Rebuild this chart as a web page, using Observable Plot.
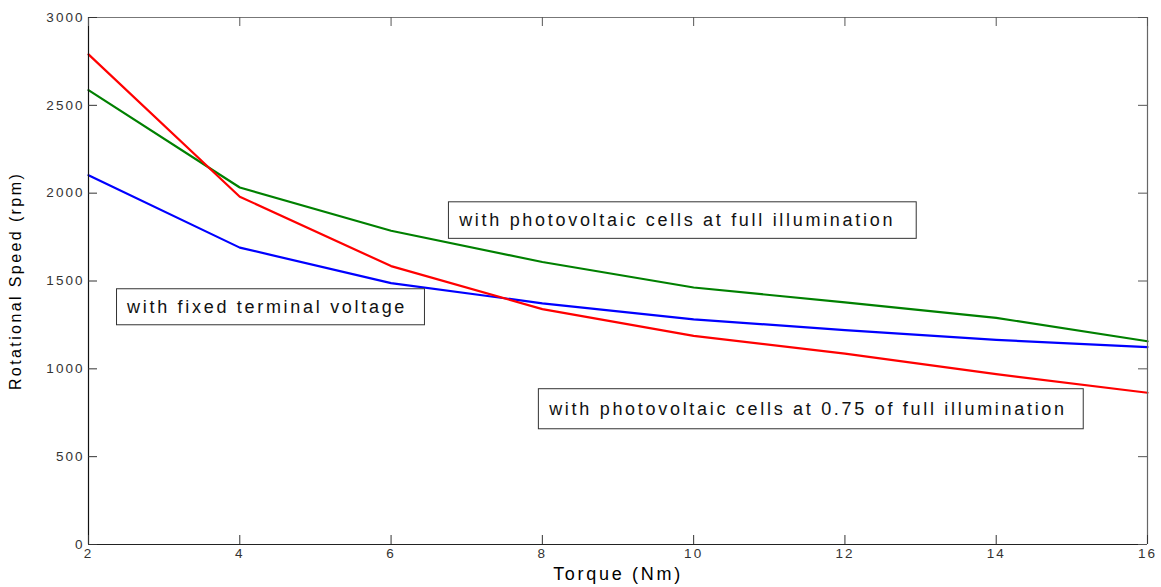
<!DOCTYPE html>
<html><head><meta charset="utf-8">
<script src="https://cdn.jsdelivr.net/npm/d3@7"></script>
<script src="https://cdn.jsdelivr.net/npm/@observablehq/plot@0.6"></script>
<style>
body{margin:0;background:#fff;}
#chart svg text{letter-spacing:0.15em;}
</style></head><body><div id="chart"></div>
<script>
// Data
const torque = [2, 4, 6, 8, 10, 12, 14, 16];
const speedFixed = [2102, 1690, 1488, 1373, 1282, 1220, 1165, 1124];
const speedFull = [2587, 2032, 1786, 1608, 1463, 1378, 1290, 1157];
const speed075 = [2790, 1980, 1585, 1340, 1188, 1087, 970, 864];
const seriesNames = [
  "with fixed terminal voltage",
  "with photovoltaic cells at full illumination",
  "with photovoltaic cells at 0.75 of full illumination"
];
const seriesColors = ["#0000ff", "#008000", "#ff0000"];
const xTicks = [2, 4, 6, 8, 10, 12, 14, 16];
const yTicks = [0, 500, 1000, 1500, 2000, 2500, 3000];
const xLabel = "Torque (Nm)";
const yLabel = "Rotational Speed (rpm)";
// annotation anchors in data units (torque, speed)
const annotTextX = [2.51, 6.90, 8.09];
const annotTextY = [1351, 1846, 770];
const annotBoxX1 = [2.377, 6.765, 7.954];
const annotBoxX2 = [6.448, 12.949, 15.157];
const annotBoxY1 = [1248, 1740, 656];
const annotBoxY2 = [1453, 1948, 884];

const allSpeeds = [speedFixed, speedFull, speed075];
const rows = [];
allSpeeds.forEach((s, k) => s.forEach((v, i) => rows.push({torque: torque[i], speed: v, series: seriesNames[k]})));
const annots = seriesNames.map((n, k) => ({label: n, tx: annotTextX[k], ty: annotTextY[k], x1: annotBoxX1[k], x2: annotBoxX2[k], y1: annotBoxY1[k], y2: annotBoxY2[k]}));

const W = 1161, H = 587, mL = 88, mR = 14, mT = 17, mB = 43;
const pw = W - mL - mR, ph = H - mT - mB;
const tl = 9;

const chart = Plot.plot({
  width: W, height: H,
  marginLeft: mL, marginRight: mR, marginTop: mT, marginBottom: mB,
  style: {fontFamily: "'Liberation Sans', Arial, sans-serif", fontSize: "13px", background: "#fff"},
  x: {domain: [2, 16], label: null},
  y: {domain: [0, 3000], label: null},
  color: {domain: seriesNames, range: seriesColors},
  marks: [
    Plot.line(rows, {x: "torque", y: "speed", z: "series", stroke: "series", strokeWidth: 2.2}),
    // frame
    Plot.ruleY([3000], {stroke: "#777", strokeWidth: 1.2}),
    Plot.ruleX([16], {stroke: "#666", strokeWidth: 1.2}),
    Plot.ruleY([0], {stroke: "#222", strokeWidth: 1.2}),
    Plot.ruleX([2], {stroke: "#111", strokeWidth: 1.2}),
    // inward ticks
    Plot.tickX(xTicks, {x: d => d, insetTop: ph - tl, stroke: "#333"}),
    Plot.tickX(xTicks, {x: d => d, insetBottom: ph - tl, stroke: "#555"}),
    Plot.tickY(yTicks, {y: d => d, insetRight: pw - tl, stroke: "#333"}),
    Plot.tickY(yTicks, {y: d => d, insetLeft: pw - tl, stroke: "#555"}),
    Plot.axisX({ticks: xTicks, tickSize: 0, tickPadding: 4, fontSize: 13.5, fill: "#333", label: null, tickFormat: d => String(d)}),
    Plot.axisY({ticks: yTicks, tickSize: 0, tickPadding: 4, fontSize: 13.5, fill: "#333", label: null, tickFormat: d => String(d)}),
    // axis titles
    Plot.text([xLabel], {frameAnchor: "bottom", dy: 30, text: d => d, fontSize: 18, fill: "#000", textAnchor: "middle", lineAnchor: "middle"}),
    Plot.text([yLabel], {frameAnchor: "left", dx: -73, rotate: -90, text: d => d, fontSize: 16, fill: "#000", textAnchor: "middle", lineAnchor: "middle"}),
    // annotation boxes
    Plot.rect(annots, {x1: "x1", x2: "x2", y1: "y1", y2: "y2", fill: "none", stroke: "#333", strokeWidth: 1}),
    Plot.text(annots, {x: "tx", y: "ty", text: "label", textAnchor: "start", lineAnchor: "middle", fontSize: 18, fill: "#111"})
  ]
});
document.getElementById("chart").appendChild(chart);
</script></body></html>
